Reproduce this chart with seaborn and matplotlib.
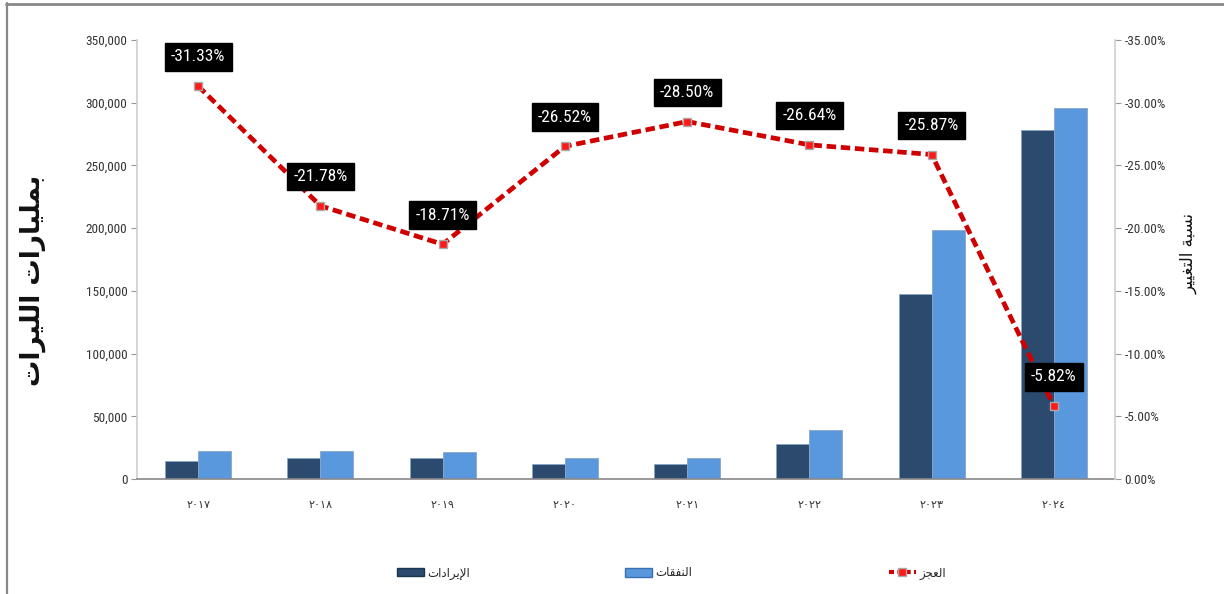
import numpy as np
import pandas as pd
import matplotlib
matplotlib.use("Agg")
import matplotlib.pyplot as plt
from matplotlib.lines import Line2D
from matplotlib.patches import Patch
from matplotlib.ticker import FuncFormatter, MultipleLocator
from matplotlib import font_manager as fm
import seaborn as sns

# ---------------- data ----------------
years = ["٢٠١٧", "٢٠١٨", "٢٠١٩", "٢٠٢٠", "٢٠٢١", "٢٠٢٢", "٢٠٢٣", "٢٠٢٤"]
revenues = [14300, 16500, 16500, 12000, 12000, 27900, 147200, 278200]
expenses = [22300, 22300, 21300, 16500, 16500, 39000, 198500, 295700]
deficit_pct = [-31.33, -21.78, -18.71, -26.52, -28.50, -26.64, -25.87, -5.82]
series_names = ["الإيرادات", "النفقات", "العجز"]
left_label = "بمليارات الليرات"
right_label = "نسبة التغيير"

# ---------- minimal Arabic shaping for display (matplotlib has no shaper) ----------
_FORMS = {  # isolated, final, initial, medial
    "\u0627": (0xFE8D, 0xFE8E, None, None),
    "\u0625": (0xFE87, 0xFE88, None, None),
    "\u0623": (0xFE83, 0xFE84, None, None),
    "\u0628": (0xFE8F, 0xFE90, 0xFE91, 0xFE92),
    "\u0629": (0xFE93, 0xFE94, None, None),
    "\u062A": (0xFE95, 0xFE96, 0xFE97, 0xFE98),
    "\u062C": (0xFE9D, 0xFE9E, 0xFE9F, 0xFEA0),
    "\u062F": (0xFEA9, 0xFEAA, None, None),
    "\u0631": (0xFEAD, 0xFEAE, None, None),
    "\u0632": (0xFEAF, 0xFEB0, None, None),
    "\u0633": (0xFEB1, 0xFEB2, 0xFEB3, 0xFEB4),
    "\u0639": (0xFEC9, 0xFECA, 0xFECB, 0xFECC),
    "\u063A": (0xFECD, 0xFECE, 0xFECF, 0xFED0),
    "\u0641": (0xFED1, 0xFED2, 0xFED3, 0xFED4),
    "\u0642": (0xFED5, 0xFED6, 0xFED7, 0xFED8),
    "\u0644": (0xFEDD, 0xFEDE, 0xFEDF, 0xFEE0),
    "\u0645": (0xFEE1, 0xFEE2, 0xFEE3, 0xFEE4),
    "\u0646": (0xFEE5, 0xFEE6, 0xFEE7, 0xFEE8),
    "\u0647": (0xFEE9, 0xFEEA, 0xFEEB, 0xFEEC),
    "\u0648": (0xFEED, 0xFEEE, None, None),
    "\u064A": (0xFEF1, 0xFEF2, 0xFEF3, 0xFEF4),
}
_LAM_ALEF = {"\u0627": (0xFEFB, 0xFEFC), "\u0625": (0xFEF9, 0xFEFA),
             "\u0623": (0xFEF7, 0xFEF8)}


def shape(text):
    chars = list(text)
    units = []
    i = 0
    while i < len(chars):
        c = chars[i]
        if c == "\u0644" and i + 1 < len(chars) and chars[i + 1] in _LAM_ALEF:
            units.append(("LA", chars[i + 1]))
            i += 2
        else:
            units.append((c, None))
            i += 1

    def is_ar(u):
        return u[0] == "LA" or u[0] in _FORMS

    def dual(u):
        return u[0] != "LA" and u[0] in _FORMS and _FORMS[u[0]][2] is not None

    out = []
    for k, u in enumerate(units):
        prev = units[k - 1] if k > 0 else None
        nxt = units[k + 1] if k + 1 < len(units) else None
        jp = prev is not None and dual(prev)
        if u[0] == "LA":
            iso, fin = _LAM_ALEF[u[1]]
            out.append(chr(fin if jp else iso))
            continue
        if u[0] not in _FORMS:
            out.append(u[0])
            continue
        f = _FORMS[u[0]]
        jn = dual(u) and nxt is not None and is_ar(nxt)
        if jp and jn:
            out.append(chr(f[3]))
        elif jp:
            out.append(chr(f[1]))
        elif jn:
            out.append(chr(f[2]))
        else:
            out.append(chr(f[0]))
    return "".join(out[::-1])


# ---------------- fonts ----------------
def find_narrow():
    prefs = ["Liberation Sans Narrow", "Roboto Condensed", "Open Sans Condensed",
             "DejaVu Sans Condensed", "Arial Narrow"]
    fl = fm.fontManager.ttflist
    for p in prefs:
        for f in fl:
            if f.name == p and f.weight in (400, "normal", "regular") and f.style == "normal":
                return f.fname
    for f in fl:
        if f.name == "DejaVu Sans" and "condensed" in str(f.stretch) and \
                f.weight in (400, "normal") and f.style == "normal":
            return f.fname
    for f in fl:
        if ("Narrow" in f.name or "Condensed" in f.name or "condensed" in str(f.stretch)) \
                and f.style == "normal":
            return f.fname
    return None


_nf = find_narrow()


def narrow_fp(size):
    if _nf:
        return fm.FontProperties(fname=_nf, size=size)
    return fm.FontProperties(family="DejaVu Sans", size=size * 0.85)


# ---------------- style ----------------
sns.set_theme(style="white")
plt.rcParams["font.family"] = ["DejaVu Sans"]

dark = "#2C4A6E"
light = "#5A98DE"
red = "#D00000"

fig = plt.figure(figsize=(12.24, 5.94), dpi=100)
ax = fig.add_axes([137 / 1224, 1 - 479 / 594, (1115 - 137) / 1224, (479 - 40) / 594])

df = pd.DataFrame({
    "year": years * 2,
    "series": [series_names[0]] * len(years) + [series_names[1]] * len(years),
    "value": revenues + expenses,
})
sns.barplot(data=df, x="year", y="value", hue="series",
            hue_order=series_names[:2], palette=[dark, light],
            width=0.54, saturation=1, legend=False, ax=ax,
            edgecolor="#8aa4c4", linewidth=0.6)

ax.set_ylim(0, 350000)
ax.yaxis.set_major_locator(MultipleLocator(50000))
ax.yaxis.set_major_formatter(FuncFormatter(lambda v, p: f"{int(v):,}"))
ax.set_xlabel("")
ax.set_ylabel(shape(left_label), fontsize=19, fontweight="bold",
              family=["DejaVu Sans"], color="#111111")
ax.yaxis.set_label_coords((46 - 137) / 978, (479 - 280) / 439)
for s in ["top", "right"]:
    ax.spines[s].set_visible(False)
ax.spines["left"].set_color("#d0d0d0")
ax.spines["bottom"].set_color("#888888")
ax.spines["bottom"].set_linewidth(1.2)
ax.tick_params(axis="y", which="major", left=True, length=4, width=0.8,
               color="#999999", labelcolor="#333333", pad=3)
ax.tick_params(axis="x", bottom=False, labelcolor="#333333", pad=9)

# ---------------- deficit line ----------------
ax2 = ax.twinx()
xpos = np.arange(len(years))
sns.lineplot(x=xpos, y=deficit_pct, ax=ax2, color=red, linewidth=3.4,
             linestyle=(0, (2.0, 1.0)), marker="s", markersize=6,
             markerfacecolor="#ff1a1a", markeredgecolor="#aaaaaa",
             markeredgewidth=1.0, legend=False, zorder=5)
ax2.set_ylim(0, -35)
ax.set_xlim(-0.5, len(years) - 0.5)
ax2.yaxis.set_major_locator(MultipleLocator(5))
ax2.yaxis.set_major_formatter(
    FuncFormatter(lambda v, p: "0.00%" if abs(v) < 1e-9 else f"{v:.2f}%"))
ax2.set_ylabel(shape(right_label), fontsize=12, family=["DejaVu Sans"],
               rotation=90, color="#111111")
ax2.yaxis.set_label_coords((1180 - 137) / 978, (479 - 253) / 439)
for s in ["top", "left", "bottom"]:
    ax2.spines[s].set_visible(False)
ax2.spines["right"].set_color("#d0d0d0")
ax2.tick_params(axis="y", right=True, length=4, width=0.8, color="#999999",
                labelcolor="#333333", pad=3)

for lab in ax.get_yticklabels() + ax2.get_yticklabels():
    lab.set_fontproperties(narrow_fp(9.5))
for lab in ax.get_xticklabels():
    lab.set_fontproperties(fm.FontProperties(family="DejaVu Sans", size=8))

for x, v in zip(xpos, deficit_pct):
    ax2.annotate(f"{v:.2f}%", xy=(x, v), xytext=(0, 21), textcoords="offset points",
                 ha="center", va="center", color="white",
                 fontproperties=narrow_fp(12.5),
                 bbox=dict(boxstyle="square,pad=0.36", fc="black", ec="black"),
                 zorder=10)

# ---------------- legend (three entries placed like the reference) ----------------
handles = [
    Patch(facecolor=dark, edgecolor="#1c3550"),
    Patch(facecolor=light, edgecolor="#3a6fb0"),
    Line2D([0], [0], color=red, lw=3, linestyle=(0, (1.2, 0.8)), marker="s",
           markersize=6, markerfacecolor="#ff1a1a", markeredgecolor="#aaaaaa"),
]
leg_x = [392, 620, 884]
for h, name, lx in zip(handles, series_names, leg_x):
    fig.legend([h], [shape(name)], loc="center left",
               bbox_to_anchor=(lx / 1224, 1 - 573 / 594), frameon=False,
               handlelength=2.3, handletextpad=0.3, borderaxespad=0,
               prop={"family": ["DejaVu Sans"], "size": 8.5})

# ---------------- outer frame ----------------
fig.add_artist(Line2D([6 / 1224, 1.0], [1 - 4 / 594, 1 - 4 / 594],
                      transform=fig.transFigure, color="#888888", lw=2))
fig.add_artist(Line2D([6.5 / 1224, 6.5 / 1224], [0, 1 - 3 / 594],
                      transform=fig.transFigure, color="#888888", lw=1.6))

fig.savefig("out.png", dpi=100, facecolor="white")
